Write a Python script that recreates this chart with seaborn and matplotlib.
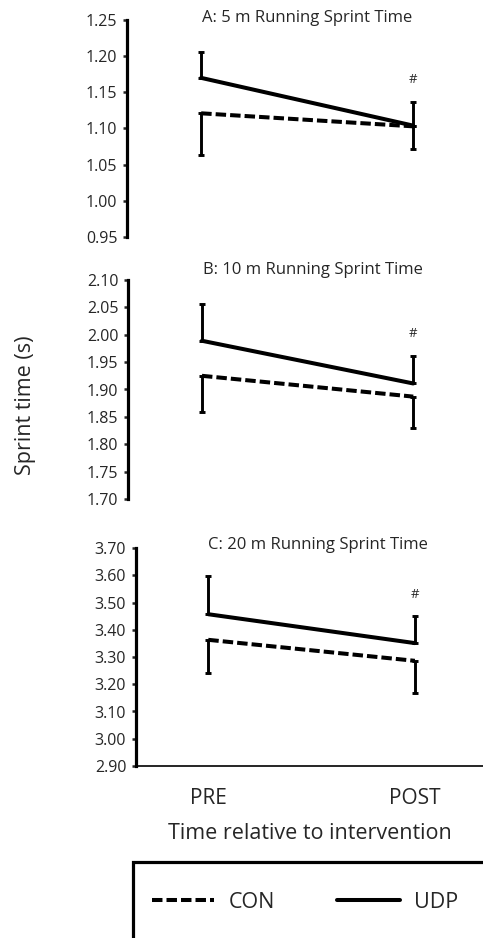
import pandas as pd
import numpy as np
import seaborn as sns
import matplotlib
matplotlib.use('Agg')
import matplotlib.pyplot as plt
from matplotlib.patches import Rectangle

sns.set_style('white')
plt.rcParams['font.family'] = ['Open Sans', 'DejaVu Sans']

# data (mean, error bar length)
times = ['PRE', 'POST']
groups = ['CON', 'UDP']
titles = ['A: 5 m Running Sprint Time', 'B: 10 m Running Sprint Time', 'C: 20 m Running Sprint Time']

con_5 = [1.121, 1.103]
udp_5 = [1.170, 1.104]
con_5_err = [0.057, 0.031]
udp_5_err = [0.036, 0.033]

con_10 = [1.925, 1.887]
udp_10 = [1.989, 1.911]
con_10_err = [0.067, 0.057]
udp_10_err = [0.068, 0.051]

con_20 = [3.363, 3.286]
udp_20 = [3.457, 3.351]
con_20_err = [0.120, 0.117]
udp_20_err = [0.142, 0.100]

ylims = [(0.95, 1.25), (1.70, 2.10), (2.90, 3.70)]
ysteps = [0.05, 0.05, 0.10]

panels = [(con_5, udp_5, con_5_err, udp_5_err),
          (con_10, udp_10, con_10_err, udp_10_err),
          (con_20, udp_20, con_20_err, udp_20_err)]

fig = plt.figure(figsize=(4.83, 9.38), dpi=100)
W, H = 483, 938
# pixel boxes: left, top, bottom
boxes = [(127, 20, 237), (128, 280, 499), (136, 548, 766)]
title_pos = [(307, 18), (313, 270), (318, 545)]

lw = 2.9
axes = []
for i, (con, udp, con_err, udp_err) in enumerate(panels):
    left, top, bot = boxes[i]
    ax = fig.add_axes([left / W, 1 - bot / H, 1 - left / W, (bot - top) / H])
    axes.append(ax)
    df = pd.DataFrame({
        't': [0, 1, 0, 1],
        'value': con + udp,
        'group': ['CON', 'CON', 'UDP', 'UDP'],
    })
    sns.lineplot(data=df, x='t', y='value', style='group', style_order=groups,
                 dashes={'CON': (2.6, 1.0), 'UDP': ''}, color='black', lw=lw,
                 ax=ax, legend=(i == 2))
    # CON errors go down, UDP errors go up
    ax.errorbar([0, 1], con, yerr=[con_err, [0, 0]], fmt='none', ecolor='black',
                elinewidth=2.1, capsize=2.3, capthick=2.1)
    ax.errorbar([0, 1], udp, yerr=[[0, 0], udp_err], fmt='none', ecolor='black',
                elinewidth=2.1, capsize=2.3, capthick=2.1)
    ax.annotate('#', xy=(1, udp[1] + udp_err[1]), xytext=(0, 11),
                textcoords='offset points', ha='center', va='bottom', fontsize=9.5)

    lo, hi = ylims[i]
    ax.set_ylim(lo, hi)
    ax.set_yticks(np.round(np.arange(lo, hi + 1e-9, ysteps[i]), 2))
    ax.yaxis.set_major_formatter(matplotlib.ticker.FormatStrFormatter('%.2f'))
    ax.set_xlim(-0.35, 1.33)
    ax.set_xlabel('')
    ax.set_ylabel('')
    sns.despine(ax=ax, top=True, right=True, bottom=(i < 2))
    ax.spines['left'].set_linewidth(2.3)
    ax.spines['left'].set_color('black')
    ax.tick_params(axis='y', direction='out', length=3, width=1.8, pad=4,
                   labelsize=11.5, left=True)
    ax.patch.set_alpha(0)

    tx, ty = title_pos[i]
    fig.text(tx / W, 1 - ty / H, titles[i], ha='center', va='center', fontsize=12)

    if i < 2:
        ax.set_xticks([])
    else:
        ax.spines['bottom'].set_linewidth(1.2)
        ax.spines['bottom'].set_color('black')
        ax.set_xticks([0, 1])
        ax.set_xticklabels(times, fontsize=15)
        ax.tick_params(axis='x', length=0, pad=16)
        ax.set_xlabel('Time relative to intervention', fontsize=15.5, labelpad=10)
        handles, labels = ax.get_legend_handles_labels()
        ax.get_legend().remove()

fig.text(25 / W, 1 - 405 / H, 'Sprint time (s)', rotation=90, ha='center',
         va='center', fontsize=15.5)

# legend box runs off the right and bottom edges
fig.patches.append(Rectangle((133 / W, -0.01), 0.8, (938 - 862) / H + 0.01,
                             transform=fig.transFigure, fill=False,
                             edgecolor='black', linewidth=2.3))
leg = fig.legend(handles, labels, loc='center left', ncol=2,
                 bbox_to_anchor=(152 / W, 1 - 902 / H), frameon=False,
                 fontsize=15.5, handlelength=2.9, handletextpad=0.65,
                 columnspacing=2.9, borderpad=0, borderaxespad=0)

fig.savefig('out.png', dpi=100)
